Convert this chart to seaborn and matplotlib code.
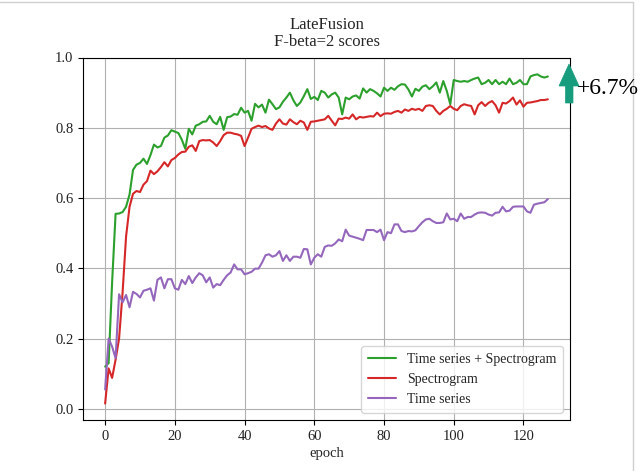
import numpy as np
import pandas as pd
import matplotlib
matplotlib.use("Agg")
import matplotlib.pyplot as plt
from matplotlib.patches import Polygon
from matplotlib.lines import Line2D
import seaborn as sns

# F-beta (beta=2) validation scores per epoch for each input modality
fused_scores = [
    0.12, 0.13, 0.36, 0.555, 0.556, 0.56, 0.575, 0.61, 0.68, 0.695,
    0.70, 0.712, 0.697, 0.722, 0.752, 0.744, 0.748, 0.772, 0.778, 0.793,
    0.789, 0.785, 0.766, 0.74, 0.797, 0.781, 0.806, 0.81, 0.817, 0.818,
    0.834, 0.817, 0.81, 0.831, 0.794, 0.83, 0.832, 0.839, 0.837, 0.857,
    0.843, 0.848, 0.82, 0.868, 0.858, 0.866, 0.843, 0.88, 0.867, 0.853,
    0.858, 0.874, 0.886, 0.9, 0.878, 0.862, 0.872, 0.89, 0.91, 0.882,
    0.888, 0.879, 0.905, 0.9, 0.886, 0.895, 0.9, 0.886, 0.838, 0.886,
    0.881, 0.889, 0.892, 0.883, 0.912, 0.9, 0.91, 0.905, 0.898, 0.889,
    0.914, 0.905, 0.914, 0.908, 0.918, 0.924, 0.923, 0.909, 0.889, 0.911,
    0.905, 0.917, 0.921, 0.91, 0.918, 0.929, 0.9, 0.933, 0.905, 0.867,
    0.936, 0.933, 0.931, 0.933, 0.931, 0.936, 0.94, 0.943, 0.924, 0.928,
    0.936, 0.924, 0.936, 0.924, 0.931, 0.924, 0.94, 0.924, 0.928, 0.936,
    0.924, 0.924, 0.946, 0.95, 0.952, 0.946, 0.943, 0.946,
]
spectrogram_scores = [
    0.015, 0.115, 0.088, 0.14, 0.2, 0.33, 0.49, 0.575, 0.612, 0.62,
    0.617, 0.638, 0.648, 0.678, 0.668, 0.676, 0.688, 0.702, 0.69, 0.708,
    0.714, 0.724, 0.731, 0.732, 0.746, 0.75, 0.734, 0.762, 0.765, 0.764,
    0.765, 0.758, 0.748, 0.762, 0.779, 0.786, 0.786, 0.783, 0.781, 0.777,
    0.748, 0.772, 0.797, 0.802, 0.806, 0.802, 0.805, 0.798, 0.794, 0.812,
    0.824, 0.812, 0.809, 0.824, 0.816, 0.81, 0.82, 0.815, 0.794, 0.817,
    0.818, 0.82, 0.822, 0.824, 0.834, 0.82, 0.807, 0.826, 0.825, 0.829,
    0.826, 0.838, 0.824, 0.831, 0.829, 0.831, 0.833, 0.832, 0.843, 0.833,
    0.84, 0.841, 0.84, 0.845, 0.848, 0.843, 0.852, 0.848, 0.854, 0.851,
    0.854, 0.848, 0.862, 0.864, 0.862, 0.848, 0.838, 0.848, 0.854, 0.862,
    0.854, 0.85, 0.862, 0.867, 0.864, 0.862, 0.838, 0.864, 0.873, 0.862,
    0.871, 0.876, 0.864, 0.843, 0.871, 0.869, 0.876, 0.886, 0.866, 0.878,
    0.86, 0.871, 0.872, 0.874, 0.876, 0.879, 0.879, 0.881,
]
timeseries_scores = [
    0.055, 0.2, 0.177, 0.144, 0.326, 0.303, 0.324, 0.289, 0.333, 0.327,
    0.317, 0.336, 0.339, 0.343, 0.308, 0.367, 0.374, 0.343, 0.369, 0.369,
    0.343, 0.339, 0.367, 0.355, 0.378, 0.358, 0.374, 0.386, 0.38, 0.36,
    0.374, 0.345, 0.355, 0.352, 0.367, 0.38, 0.388, 0.411, 0.397, 0.397,
    0.383, 0.386, 0.39, 0.399, 0.399, 0.416, 0.437, 0.44, 0.433, 0.437,
    0.449, 0.421, 0.437, 0.421, 0.433, 0.433, 0.43, 0.455, 0.454, 0.411,
    0.43, 0.44, 0.433, 0.461, 0.465, 0.464, 0.471, 0.482, 0.477, 0.51,
    0.493, 0.49, 0.487, 0.484, 0.48, 0.509, 0.509, 0.509, 0.503, 0.51,
    0.48, 0.503, 0.5, 0.525, 0.525, 0.506, 0.503, 0.506, 0.505, 0.508,
    0.52, 0.531, 0.539, 0.541, 0.534, 0.529, 0.529, 0.531, 0.556, 0.539,
    0.541, 0.534, 0.556, 0.541, 0.546, 0.546, 0.553, 0.558, 0.559, 0.558,
    0.553, 0.55, 0.558, 0.559, 0.575, 0.562, 0.564, 0.575, 0.576, 0.576,
    0.576, 0.562, 0.558, 0.581, 0.584, 0.586, 0.588, 0.597,
]
series_names = ["Time series + Spectrogram", "Spectrogram", "Time series"]
series_colors = ["#2ca02c", "#d62728", "#9467bd"]
x_ticks = [0, 20, 40, 60, 80, 100, 120]
y_ticks = [0.0, 0.2, 0.4, 0.6, 0.8, 1.0]
improvement_label = "+6.7%"

sns.set_theme(style="ticks")
plt.rcParams["font.family"] = ["Liberation Serif", "DejaVu Serif"]
plt.rcParams["font.size"] = 10

frames = []
for name, vals in zip(series_names, [fused_scores, spectrogram_scores, timeseries_scores]):
    frames.append(pd.DataFrame({"epoch": np.arange(len(vals)), "score": vals, "model": name}))
df = pd.concat(frames, ignore_index=True)

W, H = 642, 471
fig = plt.figure(figsize=(W / 100, H / 100), dpi=100)
ax = fig.add_axes([83 / W, 1 - 420 / H, (570 - 83) / W, (420 - 57.5) / H])

sns.lineplot(data=df, x="epoch", y="score", hue="model", hue_order=series_names,
             palette=dict(zip(series_names, series_colors)), linewidth=1.5, ax=ax)

ax.set_xticks(x_ticks)
ax.set_yticks(y_ticks)
ax.set_yticklabels([f"{v:.1f}" for v in y_ticks])
ax.tick_params(labelsize=10.5, length=3.5, width=0.8, color="black", labelcolor="#222222")
ax.grid(True, color="#b0b0b0", linewidth=0.8)
ax.set_axisbelow(True)
for s in ax.spines.values():
    s.set_color("black")
    s.set_linewidth(0.8)
ax.set_xlabel("epoch", fontsize=10.5, labelpad=3)
ax.set_ylabel("")
ax.set_title("LateFusion\nF-beta=2 scores", fontsize=12, linespacing=1.1, pad=8)

leg = ax.legend(loc="lower right", fontsize=10, frameon=True, framealpha=0.8,
                edgecolor="#cccccc", borderpad=0.5, handlelength=2.0)
for line in leg.get_lines():
    line.set_linewidth(1.5)


def px(x, y):
    return (x / W, 1 - y / H)


# Upward arrow marking the gain of the fused model, placed beside the axes
arrow_pts = [px(569, 64), px(559, 86), px(565.5, 86), px(565.5, 103),
             px(573, 103), px(573, 86), px(579, 86)]
fig.patches.append(Polygon(arrow_pts, closed=True, transform=fig.transFigure,
                           facecolor="#179c7d", edgecolor="#179c7d", linewidth=0.5))
fig.text(577 / W, 1 - 89 / H, improvement_label, fontsize=17, va="center", ha="left",
         color="black")

# Thin page border along the top and right edges
fig.lines.append(Line2D([632.5 / W, 632.5 / W], [0, 1 - 1.5 / H], transform=fig.transFigure,
                        color="#d0d0d0", linewidth=1.0))
fig.lines.append(Line2D([0, 632.5 / W], [1 - 1.5 / H, 1 - 1.5 / H], transform=fig.transFigure,
                        color="#d0d0d0", linewidth=1.0))

fig.savefig("out.png", dpi=100)
